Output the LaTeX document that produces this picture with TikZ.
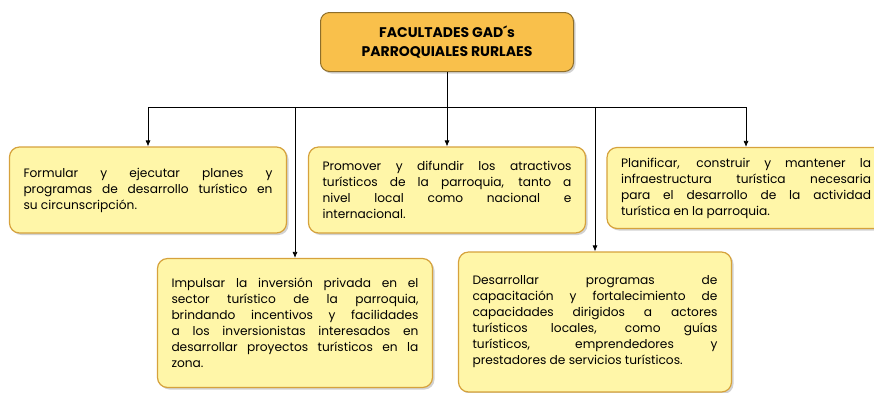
\documentclass[tikz,border=0pt]{standalone}
\usepackage{fontspec}
\setmainfont{Poppins}
\usepackage[none]{hyphenat}
\usetikzlibrary{arrows.meta,shadows}

\definecolor{boxfill}{HTML}{FFF6A8}
\definecolor{boxline}{HTML}{D6A23C}
\definecolor{titlefill}{HTML}{F9C04B}
\definecolor{titleline}{HTML}{8E6E2A}

\tikzset{
    facbox/.style={draw=boxline, line width=1.2pt, fill=boxfill, rounded corners=10pt,
        drop shadow={shadow xshift=2pt, shadow yshift=-2pt, fill=black!35},
        inner xsep=14pt, inner ysep=4pt, align=justify,
        font=\fontsize{12.2}{16}\selectfont},
    titlebox/.style={draw=titleline, line width=1pt, fill=titlefill, rounded corners=9pt,
        drop shadow={shadow xshift=2pt, shadow yshift=-2pt, fill=black!35},
        align=center, font=\fontsize{14}{19}\selectfont\bfseries},
    link/.style={-{Latex[length=6pt,width=5pt]}, black, line width=0.7pt}
}

\begin{document}
\begin{tikzpicture}[x=1pt, y=-1pt]
    \useasboundingbox (0,0) rectangle (874,392);

    \node[titlebox, minimum width=253pt, minimum height=59pt] (title) at (447,42)
        {FACULTADES GAD\textasciiacute s\\PARROQUIALES RURLAES};

    \node[facbox, text width=249pt, minimum height=86pt] (b1) at (148,190)
        {Formular y ejecutar planes y\linebreak programas de desarrollo turístico en\linebreak su circunscripción.};
    \node[facbox, text width=249pt, minimum height=86pt] (b2) at (447,190)
        {Promover y difundir los atractivos\linebreak turísticos de la parroquia, tanto a\linebreak nivel local como nacional e\linebreak internacional.};
    \node[facbox, text width=250pt, minimum height=81pt] (b3) at (746,188)
        {Planificar, construir y mantener la\linebreak infraestructura turística necesaria\linebreak para el desarrollo de la actividad\linebreak turística en la parroquia.};
    \node[facbox, text width=247pt, minimum height=129pt] (b4) at (295,323)
        {Impulsar la inversión privada en el\linebreak sector turístico de la parroquia,\linebreak brindando incentivos y facilidades\linebreak a los inversionistas interesados en\linebreak desarrollar proyectos turísticos en la\linebreak zona.};
    \node[facbox, text width=245pt, minimum height=140pt] (b5) at (595,322)
        {Desarrollar programas de\linebreak capacitación y fortalecimiento de\linebreak capacidades dirigidos a actores\linebreak turísticos locales, como guías\linebreak turísticos, emprendedores y\linebreak prestadores de servicios turísticos.};

    % ramal horizontal
    \coordinate (j1) at (148,107);
    \coordinate (j4) at (295,107);
    \coordinate (j2) at (447,107);
    \coordinate (j5) at (595,107);
    \coordinate (j3) at (746,107);
    \draw[black, line width=0.7pt] (title.south) -- (j2);
    \draw[black, line width=0.7pt] (j1) -- (j3);

    \draw[link] (j1) -- (b1.north);
    \draw[link] (j2) -- (b2.north);
    \draw[link] (j3) -- (b3.north);
    \draw[link] (j4) -- (b4.north);
    \draw[link] (j5) -- (b5.north);
\end{tikzpicture}
\end{document}
